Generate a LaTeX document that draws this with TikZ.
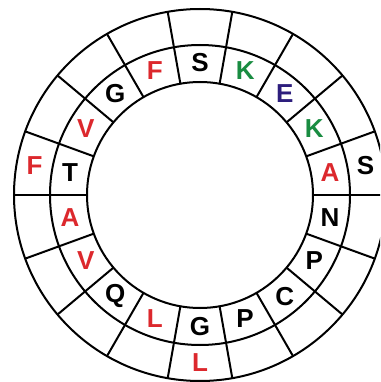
\documentclass[tikz,border=0pt]{standalone}
\usepackage{fontspec}
\setmainfont{Liberation Sans}
\definecolor{rojo}{RGB}{220,40,45}
\definecolor{verde}{RGB}{25,140,65}
\definecolor{morado}{RGB}{45,30,125}
\begin{document}
\begin{tikzpicture}[x=0.75pt,y=0.75pt,
	letra/.style={font=\fontsize{19.5}{20}\selectfont\bfseries, inner sep=0pt},
	linea/.style={line width=1.5pt}]
	\clip (-200,-187) rectangle (180,195);
	% Tres círculos concéntricos
	\draw[linea] (0,0) circle (113);
	\draw[linea] (0,0) circle (150);
	\draw[linea] (0,0) circle (186);
	
	% Divisiones de los dos anillos (18 sectores)
	\foreach \a in {0,20,...,340}
		\draw[linea] (\a:113) -- (\a:186);
	
	% Anillo interior
	\node[letra] (s1) at (90:132) {S};
	\node[letra, text=verde] (k1) at (70:132) {K};
	\node[letra, text=morado] (e1) at (50:132) {E};
	\node[letra, text=verde] (k2) at (30:132) {K};
	\node[letra, text=rojo] (a1) at (10:132) {A};
	\node[letra] (n1) at (-10:132) {N};
	\node[letra] (p1) at (-30:132) {P};
	\node[letra] (c1) at (-50:132) {C};
	\node[letra] (p2) at (-70:132) {P};
	\node[letra] (g1) at (-90:132) {G};
	\node[letra, text=rojo] (l1) at (-110:132) {L};
	\node[letra] (q1) at (-130:132) {Q};
	\node[letra, text=rojo] (v1) at (-150:132) {V};
	\node[letra, text=rojo] (a2) at (-170:132) {A};
	\node[letra] (t1) at (170:132) {T};
	\node[letra, text=rojo] (v2) at (150:132) {V};
	\node[letra] (g2) at (130:132) {G};
	\node[letra, text=rojo] (f1) at (110:132) {F};
	
	% Anillo exterior
	\node[letra, text=rojo] (f2) at (170:168) {F};
	\node[letra] (s2) at (10:168) {S};
	\node[letra, text=rojo] (l2) at (-90:168) {L};
\end{tikzpicture}
\end{document}
